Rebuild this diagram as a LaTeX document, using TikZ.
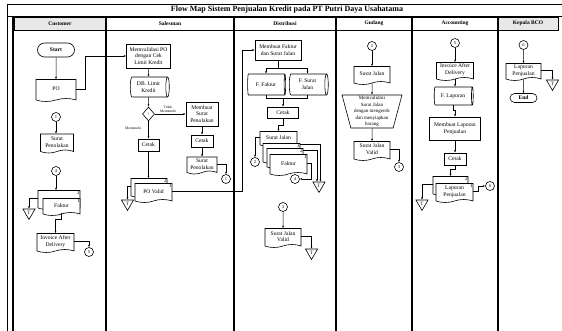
\documentclass[tikz,border=0pt]{standalone}
\usepackage{fontspec}
\setmainfont{Liberation Serif}
\usetikzlibrary{arrows.meta,positioning,shapes.geometric,shapes.symbols,shapes.misc}

\tikzset{
  flow/.style={-{Latex[length=2.4pt,width=2pt]},line width=0.5pt},
  wire/.style={line width=0.5pt},
  lane/.style={line width=1.1pt},
  lanehead/.style={draw,line width=0.4pt,minimum height=13pt,inner sep=0pt,font=\bfseries\fontsize{5.5}{6}\selectfont},
  proc/.style={draw,line width=0.6pt,align=center,inner sep=0.5pt,font=\fontsize{5.6}{6.8}\selectfont},
  paper/.style={draw,line width=0.6pt,tape,tape bend top=none,tape bend bottom=in and out,tape bend height=3pt,fill=white,align=center,inner sep=0.5pt,font=\fontsize{5.6}{6.8}\selectfont},
  store/.style={draw,line width=0.6pt,cylinder,aspect=0.3,align=center,inner sep=0.5pt,font=\fontsize{5.6}{6.8}\selectfont},
  term/.style={draw,line width=0.6pt,rounded rectangle,inner sep=0pt,font=\bfseries\fontsize{5.6}{6}\selectfont},
  link/.style={draw,line width=0.6pt,circle,minimum size=9pt,inner sep=0pt,font=\fontsize{4.5}{5}\selectfont},
  archive/.style={draw,line width=0.6pt,regular polygon,regular polygon sides=3,shape border rotate=180,minimum size=14pt,inner sep=0pt,font=\fontsize{5}{5}\selectfont},
  check/.style={draw,line width=0.6pt,diamond,minimum width=12pt,minimum height=14pt,inner sep=0pt,font=\fontsize{3.5}{4}\selectfont},
  manual/.style={draw,line width=0.6pt,trapezium,trapezium left angle=76,trapezium right angle=76,shape border rotate=180,trapezium stretches=true,inner sep=0pt,align=center,font=\fontsize{5}{6.4}\selectfont},
  cond/.style={inner sep=0.3pt,font=\fontsize{3.6}{4}\selectfont,align=center},
  copyno/.style={inner sep=0.6pt,font=\fontsize{5}{5}\selectfont},
}

\begin{document}
\begin{tikzpicture}[x=1pt,y=-1pt]
  \useasboundingbox (0,0) rectangle (562,331);

  \draw[line width=0.6pt] (562,4) -- (7,4) -- (7,331);
  \draw[line width=0.6pt] (7,16) -- (562,16);
  \node[font=\bfseries\fontsize{8}{9}\selectfont] (title) at (287,10) {Flow Map Sistem Penjualan Kredit pada PT Putri Daya Usahatama};

  \node[lanehead,fill=gray!18,minimum width=92pt] (hcust) at (60,23.5) {Customer};
  \node[lanehead,minimum width=128pt] (hsales) at (170,23.5) {Salesman};
  \node[lanehead,minimum width=102pt] (hdist) at (285,23.5) {Distribusi};
  \node[lanehead,minimum width=76pt] (hgud) at (374,23.5) {Gudang};
  \node[lanehead,minimum width=86pt] (hacc) at (455,23.5) {Accounting};
  \node[lanehead,fill=gray!18,minimum width=60pt] (hbco) at (528,23.5) {Kepala BCO};

  \draw[lane] (13,17) -- (13,331) (106,17) -- (106,331) (234,17) -- (234,331)
    (336,17) -- (336,331) (412,17) -- (412,331) (498,17) -- (498,331);

  % Customer
  \node[term,minimum width=37pt,minimum height=14pt] (start) at (56,50) {Start};
  \node[paper,minimum width=40pt,minimum height=22pt] (po) at (56,89) {PO};
  \node[link] (c1) at (56,117) {1};
  \node[paper,minimum width=33pt,minimum height=19pt] (tolak1) at (57,142) {Surat\\Penolakan};
  \node[link] (c4) at (56,171) {4};
  \node[paper,minimum width=42pt,minimum height=19pt] (faktur2) at (59,198.5) {};
  \node[paper,minimum width=37pt,minimum height=17pt] (faktur1) at (61.5,205.5) {Faktur};
  \node[copyno,anchor=north east] (nf2) at (faktur2.north east) {2};
  \node[copyno,anchor=north east] (nf1) at (faktur1.north east) {1};
  \node[archive] (t1) at (29,212.5) {T};
  \node[paper,minimum width=37pt,minimum height=19pt] (inv1) at (55.5,241.5) {Invoice After\\Delivery};
  \node[link] (c5a) at (89,252) {5};

  % Salesman
  \node[proc,minimum width=44pt,minimum height=24pt] (validasi) at (148.5,56) {Memvalidasi PO\\dengan Cek\\Limit Kredit};
  \node[store,minimum width=20pt,minimum height=39pt] (dblimit) at (148.5,87) {DB. Limit\\Kredit};
  \node[check] (cek) at (148.5,114) {?};
  \node[proc,minimum width=32pt,minimum height=24pt] (buattolak) at (202,114) {Membuat\\Surat\\Penolakan};
  \node[proc,minimum width=22pt,minimum height=12pt] (cetak1) at (202,141) {Cetak};
  \node[paper,minimum width=30pt,minimum height=17pt] (tolak2) at (202,164) {Surat\\Penolakan};
  \node[link] (c1b) at (226,179) {1};
  \node[proc,minimum width=21pt,minimum height=12pt] (cetak2) at (148.5,145) {Cetak};
  \node[paper,minimum width=36pt,minimum height=19pt] (povalid2) at (149,186.5) {};
  \node[paper,minimum width=37pt,minimum height=19pt] (povalid1) at (153.5,191.5) {PO Valid};
  \node[copyno,anchor=north east] (np2) at (povalid2.north east) {2};
  \node[copyno,anchor=north east] (np1) at (povalid1.north east) {1};
  \node[archive] (t2) at (127.5,203.5) {T};
  \node[cond] (ltidak) at (168,109.5) {Tidak\\Memenuhi};
  \node[cond] (lpenuhi) at (133,128) {Memenuhi};

  % Distribusi
  \node[proc,minimum width=46pt,minimum height=20pt] (buatfaktur) at (278,50) {Membuat Faktur\\dan Surat Jalan};
  \node[store,minimum width=21pt,minimum height=38pt] (ffaktur) at (266,84.5) {F. Faktur};
  \node[store,minimum width=21pt,minimum height=39pt] (fsurat) at (307.5,84.5) {F. Surat\\Jalan};
  \node[proc,minimum width=31pt,minimum height=11pt] (cetak3) at (283,112.5) {Cetak};
  \node[paper,minimum width=37pt,minimum height=15pt] (sjalan) at (278.5,137.5) {Surat Jalan};
  \node[paper,minimum width=37pt,minimum height=20pt] (fak3) at (281.5,152) {};
  \node[paper,minimum width=36pt,minimum height=20pt] (fak2) at (285,157) {};
  \node[paper,minimum width=37pt,minimum height=21pt] (fak1) at (288.5,163.5) {Faktur};
  \node[copyno,anchor=north east] (nk3) at (fak3.north east) {3};
  \node[copyno,anchor=north east] (nk2) at (fak2.north east) {2};
  \node[copyno,anchor=north east] (nk1) at (fak1.north east) {1};
  \node[link] (c2a) at (255,162) {2};
  \node[link] (c4a) at (295,179) {4};
  \node[archive] (t3) at (319,185.5) {T};
  \node[link] (c3a) at (283,207) {3};
  \node[paper,minimum width=36pt,minimum height=19pt] (sjvalid1) at (283,236.5) {Surat Jalan\\Valid};
  \node[archive] (t4) at (311.5,252.5) {T};

  % Gudang
  \node[link] (c2b) at (372,46) {2};
  \node[paper,minimum width=36pt,minimum height=18pt] (sjalan2) at (372,74) {Surat Jalan};
  \node[manual,minimum width=60pt,minimum height=33pt] (validsj) at (372,111.5) {Memvalidasi\\Surat Jalan\\dengan mengecek\\dan menyiapkan\\barang};
  \node[paper,minimum width=36pt,minimum height=19pt] (sjvalid2) at (372,149.5) {Surat Jalan\\Valid};
  \node[link] (c3b) at (399,167) {3};

  % Accounting
  \node[link] (c5b) at (455,43) {5};
  \node[paper,minimum width=37pt,minimum height=18pt] (inv2) at (455,70) {Invoice After\\Delivery};
  \node[store,minimum width=18pt,minimum height=39pt] (flap) at (453,96) {F. Laporan};
  \node[proc,minimum width=51pt,minimum height=23pt] (buatlap) at (455,128.5) {Membuat Laporan\\Penjualan};
  \node[proc,minimum width=22pt,minimum height=12pt] (cetak4) at (455,159) {Cetak};
  \node[paper,minimum width=35pt,minimum height=19pt] (lap2) at (450.5,184.5) {};
  \node[paper,minimum width=37pt,minimum height=19pt] (lap1) at (454.5,191.5) {Laporan\\Penjualan};
  \node[copyno,anchor=north east] (nl2) at (lap2.north east) {2};
  \node[copyno,anchor=north east] (nl1) at (lap1.north east) {1};
  \node[archive] (t5) at (422,203.5) {T};
  \node[link] (c6a) at (490,186) {6};

  % Kepala BCO
  \node[link] (c6b) at (523.5,45) {6};
  \node[paper,minimum width=35pt,minimum height=17pt] (lap3) at (523.5,70.5) {Laporan\\Penjualan};
  \node[archive] (t6) at (552.5,83.5) {T};
  \node[term,minimum width=27pt,minimum height=9pt] (finish) at (523.5,98) {End};

  \draw[flow] (start) -- (po);
  \draw[flow] (po.east) -- ++(9,0) |- (validasi.west);
  \draw[flow] (c1) -- (c1 |- tolak1.north);
  \draw[flow] (c4) -- (c4 |- faktur2.north);
  \draw[flow] (faktur2.west) -| (t1.north);
  \draw[flow] (faktur1.south) -- ++(0,6) -| (inv1.north);
  \draw[flow] (inv1.east) -| (c5a.north);

  \draw[flow] (validasi) -- (dblimit);
  \draw[flow] (dblimit) -- (cek);
  \draw[flow] (cek) -- (buattolak);
  \draw[flow] (cek) -- (cetak2);
  \draw[flow] (buattolak) -- (cetak1);
  \draw[flow] (cetak1) -- (tolak2);
  \draw[flow] (tolak2.east) -| (c1b.north);
  \draw[flow] (cetak2) -- (cetak2 |- povalid2.north);
  \draw[flow] (povalid2.west) -| (t2.north);
  \draw[flow] (povalid1.east) -- ++(70,0) |- (buatfaktur.west);

  \draw[wire] (buatfaktur.south) -- ++(0,8) coordinate (split);
  \draw[flow] (split) -| (ffaktur.north);
  \draw[flow] (split) -| (fsurat.north);
  \draw[wire] (ffaktur.south) -- ++(0,3) -| (fsurat.south);
  \draw[flow] (cetak3.north |- ffaktur.south) ++(0,3) -- (cetak3.north);
  \draw[flow] (cetak3.south) -- ++(0,7) -| (sjalan.north);
  \draw[flow] (sjalan.west) -| (c2a.north);
  \draw[flow] ([yshift=-1.5pt]fak3.north east) -| ([xshift=1.5pt]t3.north);
  \draw[flow] ([yshift=-2pt]fak2.north east) -| ([xshift=-2pt]t3.north);
  \draw[flow] (fak1.east) -- ++(4,0) |- (c4a.east);
  \draw[flow] (c3a) -- (sjvalid1);
  \draw[flow] (sjvalid1.east) -| (t4.north);

  \draw[flow] (c2b) -- (sjalan2);
  \draw[flow] (sjalan2) -- (validsj);
  \draw[flow] (validsj) -- (sjvalid2);
  \draw[flow] (sjvalid2.east) -| (c3b.north);

  \draw[flow] (c5b) -- (inv2);
  \draw[flow] (inv2) -- (inv2 |- flap.north);
  \draw[flow] (flap.south) -- ++(0,5) -| (buatlap.north);
  \draw[flow] (buatlap) -- (cetak4);
  \draw[flow] (cetak4.south) -- ++(0,4) -| (lap2.north);
  \draw[flow] (lap2.west) -| (t5.north);
  \draw[flow] (lap1.east) -- ++(5,0) |- (c6a.west);

  \draw[flow] (c6b) -- (lap3);
  \draw[flow] (lap3.east) -| (t6.north);
  \draw[flow] (lap3) -- (finish);
\end{tikzpicture}
\end{document}
